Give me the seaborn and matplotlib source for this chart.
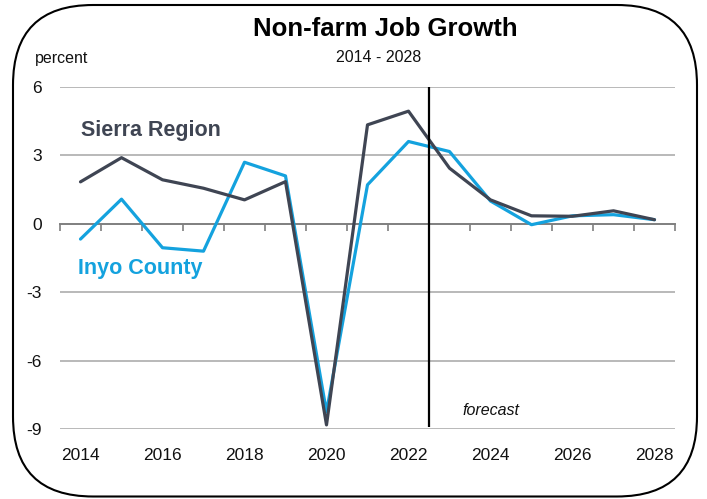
import matplotlib
matplotlib.use("Agg")
import matplotlib.pyplot as plt
import seaborn as sns
import pandas as pd
from matplotlib.patches import FancyBboxPatch

years = list(range(2014, 2029))
sierra = [1.84, 2.9, 1.93, 1.56, 1.05, 1.85, -8.82, 4.34, 4.94, 2.44, 1.05, 0.35, 0.33, 0.57, 0.18]
inyo = [-0.67, 1.08, -1.05, -1.2, 2.7, 2.1, -8.25, 1.71, 3.61, 3.17, 1.0, -0.04, 0.35, 0.4, 0.18]
series_names = ["Sierra Region", "Inyo County"]
ytick_vals = [-9, -6, -3, 0, 3, 6]
xtick_years = [2014, 2016, 2018, 2020, 2022, 2024, 2026, 2028]
forecast_start = 2022.5

df = pd.DataFrame({"year": years * 2,
                   "value": sierra + inyo,
                   "series": [series_names[0]] * len(years) + [series_names[1]] * len(years)})

sns.set_theme(style="white")
FONT = ["Liberation Sans Narrow", "Liberation Sans", "DejaVu Sans"]
plt.rcParams["font.family"] = FONT

DARK = "#3f4553"
BLUE = "#14a2de"

W, H = 707, 499
fig = plt.figure(figsize=(W / 100, H / 100), dpi=100)
ax = fig.add_axes([60 / W, 1 - 429 / H, 615 / W, (429 - 87) / H])

sns.lineplot(data=df, x="year", y="value", hue="series",
             palette={series_names[0]: DARK, series_names[1]: BLUE},
             hue_order=series_names[::-1], linewidth=2.3, ax=ax, legend=False)

ax.set_xlim(years[0] - 0.5, years[-1] + 0.5)
ax.set_ylim(-9, 6)
ax.set_xlabel("")
ax.set_ylabel("")

# gridlines
for v in ytick_vals:
    if v != 0:
        ax.axhline(v, color="#a6a6a6", lw=1.1, zorder=0)

for s in ["top", "right", "left"]:
    ax.spines[s].set_visible(False)
ax.spines["bottom"].set_position(("data", 0))
ax.spines["bottom"].set_color("#7f7f7f")
ax.spines["bottom"].set_linewidth(1.4)
ax.spines["bottom"].set_zorder(1)

bounds = [y - 0.5 for y in years] + [years[-1] + 0.5]
ax.set_xticks(bounds)
ax.set_xticklabels([])
ax.tick_params(axis="x", direction="out", length=5, width=1.2, color="#7f7f7f", bottom=True)

ax.set_yticks(ytick_vals)
ax.set_yticklabels([str(v) for v in ytick_vals])
ax.tick_params(axis="y", length=0, pad=13, labelsize=12.5, labelcolor="#111111")
for lab in ax.get_yticklabels():
    lab.set_family(FONT)

sec = ax.secondary_xaxis("bottom")
sec.set_xticks(xtick_years)
sec.set_xticklabels([str(y) for y in xtick_years])
sec.tick_params(length=0, pad=14, labelsize=12.5, labelcolor="#111111")
sec.spines["bottom"].set_visible(False)
for lab in sec.get_xticklabels():
    lab.set_family(FONT)

# forecast divider
ax.vlines(forecast_start, -8.9, 6, color="black", lw=1.6, zorder=5)
ax.text(2024.0, -8.2, "forecast", style="italic", fontsize=11.5, ha="center", va="center", color="#111111")

# series labels
ax.text(2014.0, 4.1, series_names[0], color=DARK, fontsize=15.5, fontweight="bold", ha="left", va="center")
ax.text(2013.93, -1.95, series_names[1], color=BLUE, fontsize=15.5, fontweight="bold", ha="left", va="center")

# titles
fig.text(385 / W, 1 - 29 / H, "Non-farm Job Growth", fontsize=18.5, fontweight="bold", ha="center", va="center", color="black")
fig.text(379 / W, 1 - 58 / H, "2014 - 2028", fontsize=11.5, ha="center", va="center", color="#111111")
fig.text(35 / W, 1 - 59 / H, "percent", fontsize=11.5, ha="left", va="center", color="#111111")

# rounded border
box = FancyBboxPatch((0.13, 0.025), 6.84, 4.915,
                     boxstyle="round,pad=0,rounding_size=0.8",
                     transform=fig.dpi_scale_trans, fill=False,
                     edgecolor="black", lw=1.5, zorder=10)
fig.patches.append(box)

fig.savefig("out.png", dpi=100)
